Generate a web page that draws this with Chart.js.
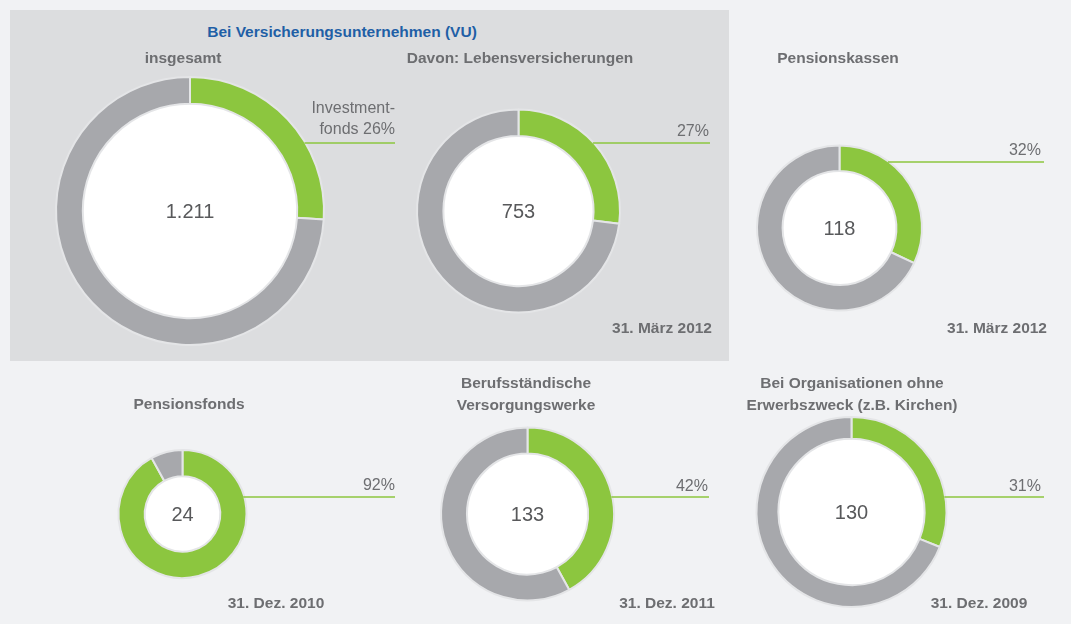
<!DOCTYPE html>
<html>
<head>
<meta charset="utf-8">
<script src="https://cdn.jsdelivr.net/npm/chart.js@4"></script>
<style>
  html, body { margin: 0; padding: 0; background: #f1f2f4; }
  #stage { position: relative; width: 1071px; height: 624px; overflow: hidden;
           font-family: "Liberation Sans", Arial, sans-serif; color: #6d6e71; }
  #panel { position: absolute; left: 10px; top: 10px; width: 719px; height: 351px; background: #dcdddf; }
  canvas { position: absolute; left: 0; top: 0; }
  .lbl { position: absolute; white-space: nowrap; font-size: 15.5px; font-weight: bold; line-height: 22px; }
  .c { transform: translate(-50%, -50%); text-align: center; }
  .r { transform: translate(-100%, -50%); text-align: right; }
  .pct { font-weight: normal; font-size: 16px; line-height: 21px; }
  .blue { color: #1f5fa6; }
</style>
</head>
<body>
<div id="stage">
  <div id="panel"></div>
  <div class="lbl c blue" style="left:342px; top:32px;">Bei Versicherungsunternehmen (VU)</div>
</div>
<script>
// Data
const chartTitles = ['insgesamt', 'Davon: Lebensversicherungen', 'Pensionskassen',
  'Pensionsfonds', 'Berufsständische\nVersorgungswerke', 'Bei Organisationen ohne\nErwerbszweck (z.B. Kirchen)'];
const totals = ['1.211', '753', '118', '24', '133', '130'];
const fundShares = [26, 27, 32, 92, 42, 31];      // Investmentfonds, %
const otherShares = [74, 73, 68, 8, 58, 69];      // Rest, %
const shareLabels = ['Investment-\nfonds 26%', '27%', '32%', '92%', '42%', '31%'];
const dateLabels = ['', '31. März 2012', '31. März 2012', '31. Dez. 2010', '31. Dez. 2011', '31. Dez. 2009'];

// Layout of each doughnut (position, radius, cutout, leader line)
const layouts = [
  { cx: 190, cy: 211, r: 134, cut: '80%', lineY: 143, lineEnd: 395,
    title: [183, 58], pct: [395, 118], date: null },
  { cx: 518.5, cy: 211, r: 101.5, cut: '74%', lineY: 143, lineEnd: 710,
    title: [520, 58], pct: [709, 130], date: [712, 328, 'r'] },
  { cx: 839.5, cy: 228, r: 82.5, cut: '69%', lineY: 162, lineEnd: 1044,
    title: [838, 58], pct: [1041, 149], date: [1047, 328, 'r'] },
  { cx: 182.5, cy: 514, r: 64, cut: '59%', lineY: 497, lineEnd: 395,
    title: [189, 404], pct: [395, 484], date: [276, 603, 'c'] },
  { cx: 527.5, cy: 514, r: 86.5, cut: '70%', lineY: 497, lineEnd: 709,
    title: [526, 394], pct: [708, 485], date: [667, 603, 'c'] },
  { cx: 851.5, cy: 512, r: 95, cut: '77%', lineY: 497, lineEnd: 1044,
    title: [852, 394], pct: [1041, 485], date: [979, 603, 'c'] }
];

const W = 1071, H = 624;
const GREEN = '#8cc63f', GREY = '#a7a8ac', EDGE = '#e4e5e7';
const stage = document.getElementById('stage');

function addLabel(text, x, y, align, extraClass) {
  const d = document.createElement('div');
  d.className = 'lbl ' + align + (extraClass ? ' ' + extraClass : '');
  d.style.left = x + 'px';
  d.style.top = y + 'px';
  d.innerHTML = text.replace(/\n/g, '<br>');
  stage.appendChild(d);
}

// white hole, leader line and centre number
const donutExtras = {
  id: 'donutExtras',
  beforeDatasetsDraw(chart, args, opts) {
    const arc = chart.getDatasetMeta(0).data[0];
    const ctx = chart.ctx;
    ctx.save();
    ctx.fillStyle = '#ffffff';
    ctx.beginPath();
    ctx.arc(arc.x, arc.y, arc.innerRadius, 0, Math.PI * 2);
    ctx.fill();
    ctx.restore();
  },
  afterDatasetsDraw(chart, args, opts) {
    const arc = chart.getDatasetMeta(0).data[0];
    const ctx = chart.ctx;
    const R = arc.outerRadius;
    const dy = opts.lineY - arc.y;
    const x0 = arc.x + Math.sqrt(Math.max(R * R - dy * dy, 0)) - 1;
    ctx.save();
    ctx.strokeStyle = GREEN;
    ctx.lineWidth = 1.5;
    ctx.beginPath();
    ctx.moveTo(x0, opts.lineY);
    ctx.lineTo(opts.lineEnd, opts.lineY);
    ctx.stroke();
    ctx.fillStyle = '#58595b';
    ctx.font = '20px "Liberation Sans", Arial, sans-serif';
    ctx.textAlign = 'center';
    ctx.textBaseline = 'middle';
    ctx.fillText(opts.total, arc.x, arc.y + 1);
    ctx.restore();
  }
};

layouts.forEach((L, i) => {
  const canvas = document.createElement('canvas');
  canvas.width = W;
  canvas.height = H;
  stage.appendChild(canvas);

  new Chart(canvas.getContext('2d'), {
    type: 'doughnut',
    data: {
      labels: ['Investmentfonds', 'Sonstige'],
      datasets: [{
        data: [fundShares[i], otherShares[i]],
        backgroundColor: [GREEN, GREY],
        borderColor: EDGE,
        borderWidth: 2,
        hoverOffset: 0,
        offset: 0
      }]
    },
    options: {
      responsive: false,
      animation: false,
      cutout: L.cut,
      rotation: 0,
      events: [],
      layout: {
        padding: {
          left: L.cx - L.r - 1,
          right: W - (L.cx + L.r + 1),
          top: L.cy - L.r - 1,
          bottom: H - (L.cy + L.r + 1)
        }
      },
      plugins: {
        legend: { display: false },
        tooltip: { enabled: false },
        donutExtras: { lineY: L.lineY, lineEnd: L.lineEnd, total: totals[i] }
      }
    },
    plugins: [donutExtras]
  });

  addLabel(chartTitles[i], L.title[0], L.title[1], 'c');
  addLabel(shareLabels[i], L.pct[0], L.pct[1], 'r', 'pct');
  if (L.date) addLabel(dateLabels[i], L.date[0], L.date[1], L.date[2]);
});
</script>
</body>
</html>
